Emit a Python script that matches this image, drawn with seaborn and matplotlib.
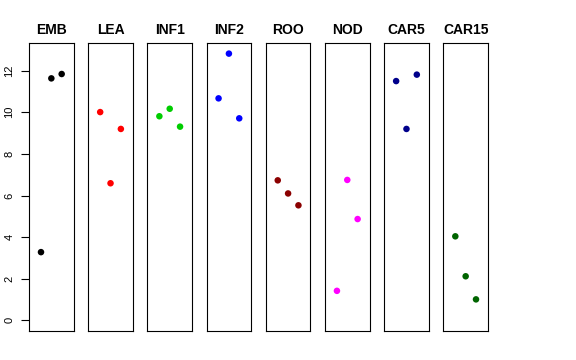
import matplotlib
matplotlib.use("Agg")
import matplotlib.pyplot as plt
import seaborn as sns
import pandas as pd

sns.set_style("white")
plt.rcParams['font.family'] = ['Liberation Sans', 'DejaVu Sans']
plt.rcParams['text.color'] = 'black'
plt.rcParams['axes.labelcolor'] = 'black'
plt.rcParams['ytick.color'] = 'black'

tissues = ["EMB", "LEA", "INF1", "INF2", "ROO", "NOD", "CAR5", "CAR15"]
colors = ["#000000", "#FF0000", "#00CD00", "#0000FF", "#8B0000", "#FF00FF", "#00008B", "#006400"]
replicate = [1, 2, 3]
emb = [3.28, 11.63, 11.84]
lea = [10.01, 6.59, 9.20]
inf1 = [9.81, 10.17, 9.31]
inf2 = [10.67, 12.82, 9.71]
roo = [6.73, 6.10, 5.53]
nod = [1.42, 6.75, 4.87]
car5 = [11.50, 9.20, 11.81]
car15 = [4.04, 2.12, 1.01]
values = [emb, lea, inf1, inf2, roo, nod, car5, car15]
yticks = [0, 2, 4, 6, 8, 10, 12]

rows = []
for t, vals in zip(tissues, values):
    for r, v in zip(replicate, vals):
        rows.append({"tissue": t, "rep": r, "value": v})
df = pd.DataFrame(rows)

fig, axes = plt.subplots(1, 8, figsize=(5.76, 3.6), dpi=100, sharey=True)
fig.subplots_adjust(left=29/576, right=488/576, top=1-43/360, bottom=1-331/360, wspace=0.325)

for i, (ax, t, c) in enumerate(zip(axes, tissues, colors)):
    sub = df[df["tissue"] == t]
    sns.scatterplot(data=sub, x="rep", y="value", color=c, s=22, edgecolor="none", ax=ax, legend=False)
    ax.set_xlim(-0.16, 4.16)
    ax.set_ylim(-0.51, 13.33)
    ax.set_xticks([])
    ax.set_xlabel("")
    ax.set_ylabel("")
    ax.set_title(t, fontsize=10, fontweight="bold", pad=6.5, color="black")
    for sp in ax.spines.values():
        sp.set_visible(True)
        sp.set_color("black")
        sp.set_linewidth(0.8)
    if i == 0:
        ax.set_yticks(yticks)
        ax.set_yticklabels([str(v) for v in yticks], rotation=90, va="center", fontsize=8, color="black")
        ax.tick_params(axis="y", direction="out", length=5.5, width=0.8, pad=5, left=True,
                       color="black", labelcolor="black")
    else:
        ax.tick_params(axis="y", left=False, labelleft=False)

fig.savefig("out.png", dpi=100)
